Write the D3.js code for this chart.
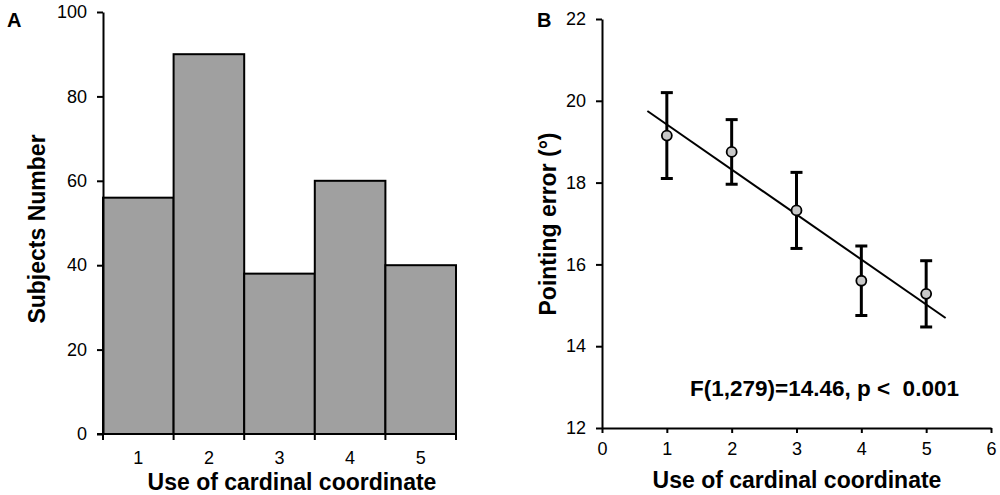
<!DOCTYPE html>
<html>
<head>
<meta charset="utf-8">
<script src="https://cdn.jsdelivr.net/npm/d3@7"></script>
<style>
  body { margin: 0; background: #fff; }
  svg { font-family: "Liberation Sans", Arial, sans-serif; }
</style>
</head>
<body>
<div id="chart"></div>
<script>
// panel A: histogram
const useLevels = [1, 2, 3, 4, 5];
const subjectCounts = [56, 90, 38, 60, 40];
const countTicks = [0, 20, 40, 60, 80, 100];

// panel B: pointing error
const errMeans = [19.15, 18.75, 17.32, 15.6, 15.28];
const errSE = [1.05, 0.79, 0.93, 0.85, 0.81];
const errTicks = [12, 14, 16, 18, 20, 22];
const xTicksB = [0, 1, 2, 3, 4, 5, 6];
const fitIntercept = 20.52;
const fitSlope = -1.1;
const fitRange = [0.7, 5.3];
const statText = "F(1,279)=14.46, p <\u00a0 0.001";

const font = "'Liberation Sans', Arial, sans-serif";

const svg = d3.select("#chart").append("svg")
    .attr("width", 1000).attr("height", 495);

// ---------- A ----------
const xA = d3.scaleBand().domain(useLevels).range([103, 456]).padding(0);
const yA = d3.scaleLinear().domain([0, 100]).range([434, 12]);

const gA = svg.append("g");

gA.selectAll("rect.bar")
    .data(useLevels).enter()
    .append("rect")
    .attr("class", "bar")
    .attr("x", d => xA(d))
    .attr("y", (d, i) => yA(subjectCounts[i]))
    .attr("width", xA.bandwidth())
    .attr("height", (d, i) => yA(0) - yA(subjectCounts[i]))
    .attr("fill", "#a0a0a0")
    .attr("stroke", "#000")
    .attr("stroke-width", 2);

// y axis
gA.append("g")
    .attr("transform", "translate(103,0)")
    .call(d3.axisLeft(yA).tickValues(countTicks).tickSize(6).tickSizeOuter(0).tickPadding(10));
// x axis line, ticks at bar edges
const edges = useLevels.map(d => xA(d)).concat([xA(5) + xA.bandwidth()]);
gA.append("line")
    .attr("x1", 97).attr("x2", 456)
    .attr("y1", yA(0)).attr("y2", yA(0))
    .attr("stroke", "#000").attr("stroke-width", 2);
gA.selectAll("line.edge")
    .data(edges).enter()
    .append("line")
    .attr("class", "edge")
    .attr("x1", d => d).attr("x2", d => d)
    .attr("y1", yA(0)).attr("y2", yA(0) + 6)
    .attr("stroke", "#000").attr("stroke-width", 2);
gA.selectAll("text.xlab")
    .data(useLevels).enter()
    .append("text")
    .attr("class", "xlab")
    .attr("x", d => xA(d) + xA.bandwidth() / 2)
    .attr("y", 464)
    .attr("text-anchor", "middle")
    .attr("font-family", font)
    .attr("font-size", 18)
    .text(d => d);

gA.append("text")
    .attr("x", 292).attr("y", 490)
    .attr("text-anchor", "middle")
    .attr("font-size", 23).attr("font-weight", "bold")
    .text("Use of cardinal coordinate");
gA.append("text")
    .attr("transform", "translate(45,229) rotate(-90)")
    .attr("text-anchor", "middle")
    .attr("font-size", 23).attr("font-weight", "bold")
    .text("Subjects Number");
gA.append("text")
    .attr("x", 7).attr("y", 27)
    .attr("font-size", 20).attr("font-weight", "bold")
    .text("A");

// ---------- B ----------
const xB = d3.scaleLinear().domain([0, 6]).range([602, 991]);
const yB = d3.scaleLinear().domain([12, 22]).range([428, 19]);
const gB = svg.append("g");

gB.append("g")
    .attr("transform", "translate(602,0)")
    .call(d3.axisLeft(yB).tickValues(errTicks).tickSize(6).tickSizeOuter(0).tickPadding(10));
gB.append("g")
    .attr("transform", "translate(0,428)")
    .call(d3.axisBottom(xB).tickValues(xTicksB).tickFormat(d3.format("d")).tickSize(5).tickSizeOuter(0).tickPadding(9));

// regression line
gB.append("line")
    .attr("x1", xB(fitRange[0])).attr("y1", yB(fitIntercept + fitSlope * fitRange[0]))
    .attr("x2", xB(fitRange[1])).attr("y2", yB(fitIntercept + fitSlope * fitRange[1]))
    .attr("stroke", "#000").attr("stroke-width", 2);

const pts = useLevels.map((d, i) => ({x: d, m: errMeans[i], se: errSE[i]}));
const eb = gB.selectAll("g.eb").data(pts).enter().append("g").attr("class", "eb");
eb.append("line")
    .attr("x1", d => xB(d.x)).attr("x2", d => xB(d.x))
    .attr("y1", d => yB(d.m + d.se)).attr("y2", d => yB(d.m - d.se))
    .attr("stroke", "#000").attr("stroke-width", 3);
[1, -1].forEach(s => {
    eb.append("line")
        .attr("x1", d => xB(d.x) - 6).attr("x2", d => xB(d.x) + 6)
        .attr("y1", d => yB(d.m + s * d.se)).attr("y2", d => yB(d.m + s * d.se))
        .attr("stroke", "#000").attr("stroke-width", 3);
});
eb.append("circle")
    .attr("cx", d => xB(d.x)).attr("cy", d => yB(d.m))
    .attr("r", 5)
    .attr("fill", "#c8c8c8")
    .attr("stroke", "#000").attr("stroke-width", 1.8);

gB.append("text")
    .attr("x", 690).attr("y", 396)
    .attr("font-size", 22.5).attr("font-weight", "bold")
    .text(statText);
gB.append("text")
    .attr("x", 797).attr("y", 488)
    .attr("text-anchor", "middle")
    .attr("font-size", 23).attr("font-weight", "bold")
    .text("Use of cardinal coordinate");
gB.append("text")
    .attr("transform", "translate(556,224) rotate(-90)")
    .attr("text-anchor", "middle")
    .attr("font-size", 23).attr("font-weight", "bold")
    .text("Pointing error (°)");
gB.append("text")
    .attr("x", 537).attr("y", 27)
    .attr("font-size", 20).attr("font-weight", "bold")
    .text("B");

// axis styling
svg.selectAll(".domain").attr("stroke-width", 2);
svg.selectAll(".tick line").attr("stroke-width", 2);
svg.selectAll(".tick text").attr("font-size", 18).attr("font-family", font).attr("fill", "#000");
</script>
</body>
</html>
